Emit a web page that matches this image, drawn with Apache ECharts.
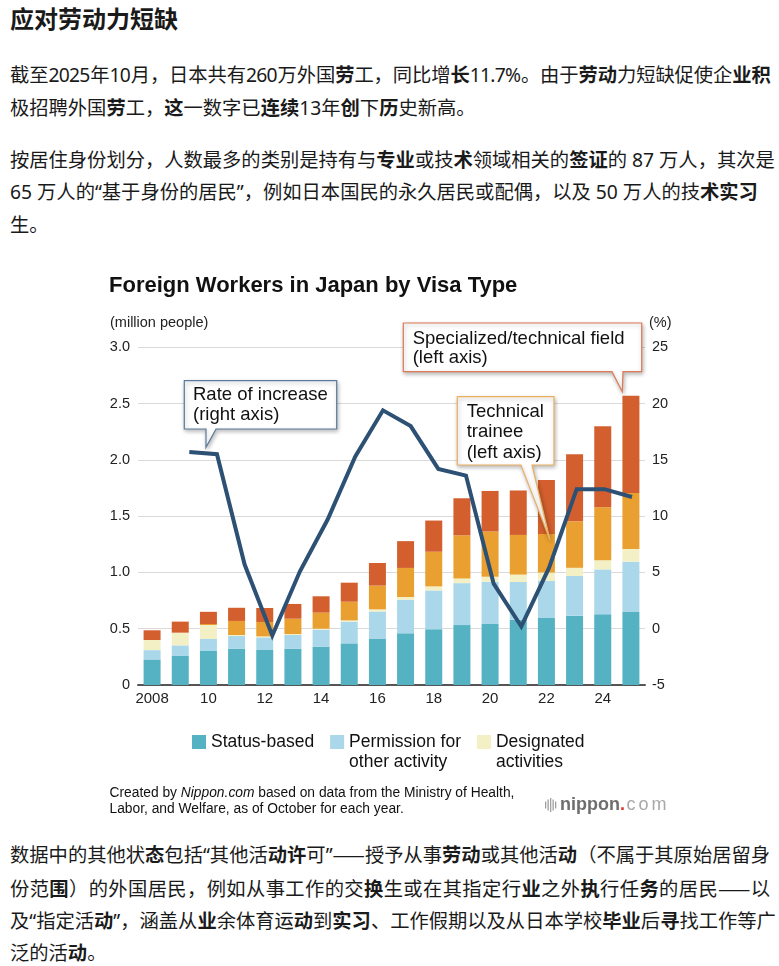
<!DOCTYPE html>
<html>
<head>
<meta charset="utf-8">
<script src="https://cdn.jsdelivr.net/npm/echarts@6/dist/echarts.min.js"></script>
<style>
  html, body { margin: 0; padding: 0; background: #fff; }
  body { width: 779px; height: 966px; position: relative; overflow: hidden;
         font-family: "Noto Sans", "Noto Sans CJK SC", sans-serif; color: #1a1a1a; }
  .h { position: absolute; left: 10px; top: 2px; font-size: 24px; font-weight: 700; line-height: 32px;
       font-family: "Noto Sans CJK SC", sans-serif; }
  .ln { position: absolute; left: 10px; width: 760px; font-size: 19.3px; line-height: 32px; white-space: nowrap; }
  .j { text-align: justify; text-align-last: justify; }
  .cj { font-family: "Noto Sans CJK SC", sans-serif; }
  b { font-weight: 700; }
  #chart { position: absolute; left: 0; top: 250px; width: 779px; height: 580px; }
</style>
</head>
<body>
<div class="h">应对劳动力短缺</div>
<div class="ln j" style="top:59px; letter-spacing:-0.75px">截至2025年10月，日本共有260万外国<b>劳</b>工，同比增<b>长</b>11.7%。由于<b>劳动</b>力短缺促使企<b>业积</b></div>
<div class="ln" style="top:92px">极招聘外国<b>劳</b>工，<b>这</b>一数字已<b>连续</b>13年<b>创</b>下<b>历</b>史新高。</div>
<div class="ln j" style="top:144px">按居住身份划分，人数最多的类别是持有与<b>专业</b>或技<b>术</b>领域相关的<b>签证</b>的 87 万人，其次是</div>
<div class="ln" style="top:176px">65 万人的“基于身份的居民”，例如日本国民的永久居民或配偶，以及 50 万人的技<b>术实习</b></div>
<div class="ln" style="top:209px">生。</div>
<div id="chart"></div>
<div class="ln j" style="top:838px">数据中的其他状<b>态</b>包括“其他活<b>动许</b>可”<span class="cj">——</span>授予从事<b>劳动</b>或其他活<b>动</b>（不属于其原始居留身</div>
<div class="ln j" style="top:872px">份范<b>围</b>）的外国居民，例如从事工作的交<b>换</b>生或在其指定行<b>业</b>之外<b>执</b>行任<b>务</b>的居民<span class="cj">——</span>以</div>
<div class="ln j" style="top:905px">及“指定活<b>动</b>”，涵盖从<b>业</b>余体育运<b>动</b>到<b>实习</b>、工作假期以及从日本学校<b>毕业</b>后<b>寻</b>找工作等广</div>
<div class="ln" style="top:937px">泛的活<b>动</b>。</div>

<script>
// ---- data ----
const years = ['2008','2009','2010','2011','2012','2013','2014','2015','2016','2017','2018','2019','2020','2021','2022','2023','2024','2025'];
const statusBased   = [0.227,0.258,0.302,0.323,0.311,0.323,0.341,0.370,0.413,0.459,0.496,0.532,0.546,0.580,0.595,0.616,0.629,0.648];
const permission    = [0.083,0.094,0.107,0.112,0.112,0.121,0.151,0.193,0.240,0.297,0.344,0.373,0.370,0.335,0.331,0.353,0.398,0.448];
const designated    = [0.090,0.113,0.124,0.009,0.009,0.009,0.008,0.011,0.019,0.026,0.036,0.041,0.046,0.066,0.073,0.072,0.082,0.112];
const trainee       = [0,0,0.009,0.125,0.128,0.136,0.143,0.166,0.211,0.258,0.308,0.384,0.402,0.352,0.343,0.413,0.471,0.498];
const specialized   = [0.086,0.098,0.108,0.117,0.124,0.131,0.145,0.169,0.201,0.238,0.277,0.329,0.360,0.395,0.480,0.596,0.719,0.864];
const rateOfIncrease = [null,15.7,15.5,5.7,-0.6,5.1,9.7,15.3,19.4,18.0,14.2,13.6,4.0,0.2,5.4,12.4,12.4,11.7];
const leftTicks  = { min: 0, max: 3, step: 0.5 };
const rightTicks = { min: -5, max: 25, step: 5 };
const seriesNames = ['Status-based','Permission for other activity','Designated activities','Technical trainee','Specialized/technical field'];
const legendLabels = { 'Status-based': '\nStatus-based\n ', 'Permission for other activity': '\nPermission for\nother activity', 'Designated activities': '\nDesignated\nactivities' };

const FONT = '"Liberation Sans", Arial, Helvetica, sans-serif';
const colors = ['#55b2c2', '#aad8ea', '#f3f0c6', '#e9a030', '#d35f2e'];
const lineColor = '#2d5174';

const chart = echarts.init(document.getElementById('chart'));

function callout(x1, y1, x2, y2, bx1, bx2, tx, ty, stroke, lines, textX, lineYs) {
  const els = [{
    type: 'polygon', z: 100,
    shape: { points: [[x1,y1],[x2,y1],[x2,y2],[bx2,y2],[tx,ty],[bx1,y2],[x1,y2]] },
    style: { fill: '#fff', stroke: stroke, lineWidth: 1.2,
             shadowBlur: 4, shadowOffsetX: 1, shadowOffsetY: 2, shadowColor: 'rgba(0,0,0,0.28)' }
  }];
  lines.forEach((t, i) => els.push({
    type: 'text', z: 101, x: textX, y: lineYs[i],
    style: { text: t, font: '18.5px ' + FONT, fill: '#111', verticalAlign: 'middle', align: 'left' }
  }));
  return els;
}

const logoBars = [7, 11, 14, 11, 7].map((h, i) => ({
  type: 'rect', z: 50, shape: { x: 545 + i * 2.5, y: 555 - h / 2, width: 1.3, height: h },
  style: { fill: '#a0a0a0' }
}));

const barSeries = [statusBased, permission, designated, trainee, specialized].map((d, i) => ({
  name: seriesNames[i], type: 'bar', stack: 'total', data: d, barWidth: 17,
  itemStyle: { color: colors[i] }, emphasis: { disabled: true }
}));

chart.setOption({
  animation: false,
  textStyle: { fontFamily: FONT },
  title: {
    text: 'Foreign Workers in Japan by Visa Type', left: 109, top: 23, padding: 0,
    textStyle: { fontSize: 22, fontWeight: 'bold', color: '#111', fontFamily: FONT, lineHeight: 26 }
  },
  grid: { left: 138, right: 134, top: 97.3, bottom: 145 },
  legend: {
    data: seriesNames.slice(0, 3), left: 192, top: 462, padding: 0,
    itemWidth: 14, itemHeight: 14, itemGap: 16, icon: 'rect',
    formatter: n => legendLabels[n],
    textStyle: { fontSize: 17.5, lineHeight: 20, color: '#111', fontFamily: FONT },
    selectedMode: false
  },
  xAxis: [{
    type: 'category', data: years, gridIndex: 0,
    axisLine: { lineStyle: { color: '#555', width: 2 } },
    axisTick: { show: false },
    axisLabel: { interval: 1, margin: 6, fontSize: 15, color: '#222',
                 formatter: (v, i) => i === 0 ? v : v.slice(2) }
  }, {
    type: 'value', gridIndex: 0, min: 2007.146, max: 2025.47, show: false
  }],
  yAxis: [{
    type: 'value', min: leftTicks.min, max: leftTicks.max, interval: leftTicks.step,
    axisLine: { show: false }, axisTick: { show: false },
    splitLine: { lineStyle: { color: '#dadada', width: 1 } },
    axisLabel: { margin: 8, fontSize: 14.5, color: '#222', formatter: v => v === 0 ? '0' : v.toFixed(1) }
  }, {
    type: 'value', min: rightTicks.min, max: rightTicks.max, interval: rightTicks.step, position: 'right',
    axisLine: { show: false }, axisTick: { show: false }, splitLine: { show: false },
    axisLabel: { margin: 7, fontSize: 14.5, color: '#222' }
  }],
  series: barSeries.concat([{
    name: 'Rate of increase', type: 'line', xAxisIndex: 1, yAxisIndex: 1, z: 10,
    data: rateOfIncrease.map((v, i) => v == null ? null : [Number(years[i]), v]).filter(Boolean),
    showSymbol: false, symbol: 'none',
    lineStyle: { color: lineColor, width: 4, join: 'miter' },
    emphasis: { disabled: true }
  }]),
  graphic: [
    { type: 'text', x: 110, y: 73, style: { text: '(million people)', font: '14.5px ' + FONT, fill: '#222', verticalAlign: 'middle' } },
    { type: 'text', x: 649, y: 73, style: { text: '(%)', font: '14.5px ' + FONT, fill: '#222', verticalAlign: 'middle' } },
    { type: 'text', x: 109.5, y: 551, style: {
        text: 'Created by {i|Nippon.com} based on data from the Ministry of Health,\nLabor, and Welfare, as of October for each year.',
        font: '13.8px ' + FONT, fill: '#111', lineHeight: 16, verticalAlign: 'middle',
        rich: { i: { fontStyle: 'italic', fontSize: 13.8, fontFamily: FONT, fill: '#111' } }
    } },
    { type: 'text', x: 560, y: 555, z: 50, style: {
        text: '{b|nippon}{r|.}{c|c}{c|o}{c|m}', verticalAlign: 'middle',
        rich: {
          b: { fontSize: 18, fontWeight: 'bold', fill: '#6e6e6e', fontFamily: FONT },
          r: { fontSize: 18, fontWeight: 'bold', fill: '#e03a2f', fontFamily: FONT },
          c: { fontSize: 18, fill: '#a8a8a8', fontFamily: FONT, padding: [0, 1.5, 0, 1.5] }
        }
    } }
  ].concat(logoBars)
   .concat(callout(184.3, 130.7, 336.7, 179, 206, 216, 206, 197.3, '#5a7b9b',
                   ['Rate of increase', '(right axis)'], 193, [145, 165]))
   .concat(callout(403.3, 73, 641.7, 121.7, 612, 623, 622.3, 141.7, '#dc7a55',
                   ['Specialized/technical field', '(left axis)'], 412.7, [89.3, 108.3]))
   .concat(callout(457.3, 146.7, 554, 215, 521, 532, 550, 290, '#eab060',
                   ['Technical', 'trainee', '(left axis)'], 466.7, [161.7, 181.7, 202.7]))
});
</script>
</body>
</html>
